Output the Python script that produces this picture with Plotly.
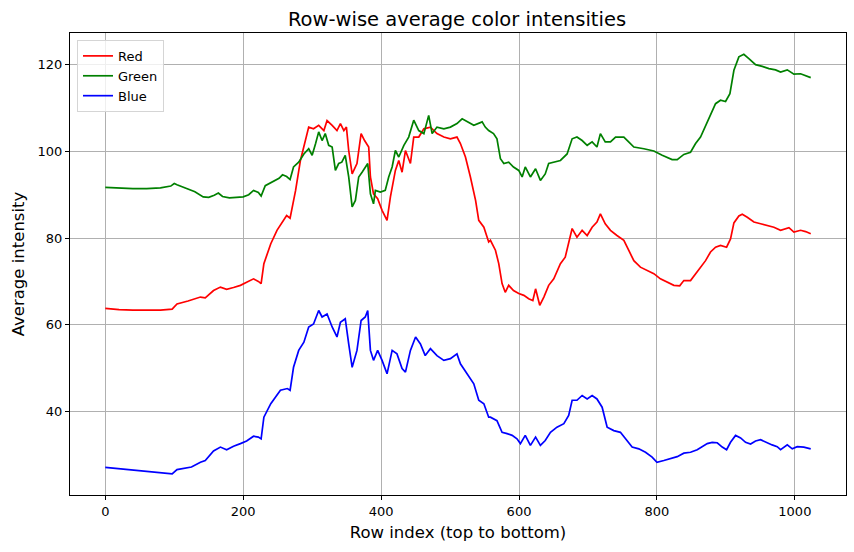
import plotly.graph_objects as go

# ---- data ----
red_x = [0, 20, 40, 60, 80, 97, 104, 120, 138, 145, 157, 167, 176, 186, 196, 205, 215, 222, 226, 230, 240, 249, 257, 263, 268,
         276, 283, 290, 295, 302, 309.5, 317, 321.6, 329, 336, 341, 346, 349.7, 353, 358, 365, 371, 376, 382, 384.5, 389, 395,
         401.4, 408.6, 413.5, 420.7, 425.6, 430.4, 435.3, 442.5, 447.3, 454.6, 462, 471.5, 481, 491, 500.5, 510, 515, 522.3,
         529.5, 537, 541.6, 549, 556, 558.5, 565.8, 570.6, 575.4, 580, 585, 592, 599.6, 607, 614, 620, 624, 630, 636, 643,
         650.4, 660, 667, 672, 677, 684, 691.5, 698.8, 706, 713, 718, 725, 732.6, 742, 752, 759, 766.5, 776, 786, 795.5, 805,
         815, 824.5, 833, 839, 848.7, 856, 863.2, 870.5, 877.7, 885, 892.2, 901, 906.7, 911.6, 918.8, 923.7, 931, 940.6,
         950.3, 960, 969.6, 979.3, 991.4, 998.6, 1008.3, 1015.6, 1023]
red_y = [63.8, 63.5, 63.4, 63.4, 63.4, 63.6, 64.8, 65.5, 66.4, 66.2, 67.9, 68.7, 68.2, 68.6, 69.1, 69.8, 70.6, 70.0, 69.5, 74.1,
         78.7, 81.8, 83.7, 85.2, 84.6,
         91.0, 97.9, 102.5, 105.6, 105.2, 106.0, 104.8, 107.1, 106.0, 104.8, 106.4, 104.8, 105.6, 100.2, 94.8, 97.2, 104.1,
         102.5, 101.0, 94.1, 90.2, 89.1, 86.4, 84.1, 89.5, 95.6, 97.9, 95.2, 100.2, 97.2, 103.3, 103.3, 105.2, 105.6, 104.1,
         103.3, 102.9, 103.3, 101.8, 98.7, 94.1, 88.7, 84.1, 82.5, 79.1, 79.5, 77.2, 74.1, 69.5, 67.5, 69.1, 67.9, 67.2, 66.8,
         66.0, 65.6, 68.3, 64.5, 66.4, 69.1, 70.6, 74.1, 75.6, 78.7, 82.2, 80.2, 81.8, 80.6, 82.5, 83.7, 85.6, 83.3, 81.8,
         80.6, 79.5, 77.2, 74.8, 73.3, 72.5, 71.8, 70.6, 69.8, 69.1, 69.0, 70.2, 70.2, 71.8, 73.2, 74.8, 76.8, 77.9, 78.3,
         77.9, 79.8, 83.5, 85.1, 85.5, 84.8, 83.7, 83.3, 82.9, 82.5, 81.8, 82.4, 81.4, 81.8, 81.5, 81.0]

green_x = [0, 20, 40, 60, 80, 95, 100, 104, 115, 130, 142, 150, 158, 164, 170, 180, 190, 200, 208, 215, 222, 226, 232, 240,
           245, 252, 257, 263, 268, 273, 280.5, 288, 295, 300, 305, 309.5, 314.4, 319, 324, 329, 333.7, 338.5, 343, 348,
           353, 358, 362.7, 367.5, 372.4, 377, 380.6, 384.5, 389, 391.7, 399, 406, 411, 416, 420.7, 425.6, 433, 440, 447.3,
           454.6, 462, 469, 474, 481, 491, 500.5, 510, 517.5, 524.7, 534.4, 546.5, 551, 556, 563, 568, 573, 578, 585, 592,
           599.6, 604.5, 609, 616.5, 624, 631, 638, 643, 650.4, 660, 669.7, 677, 684, 691.5, 698.8, 706, 713, 718, 725,
           732.6, 740, 752, 759, 766.5, 781, 795.5, 807.6, 822, 829.4, 839, 848.7, 856, 863.2, 870.5, 877.7, 885, 892.2,
           899.5, 905.8, 911.6, 918.8, 926, 933.3, 943, 952.7, 962.4, 972, 979.3, 989, 998.6, 1008.3, 1015.6, 1023]
green_y = [91.7, 91.5, 91.4, 91.4, 91.6, 92.0, 92.6, 92.3, 91.6, 90.7, 89.5, 89.4, 89.9, 90.4, 89.6, 89.3, 89.4, 89.5, 90.0,
           91.0, 90.5, 89.7, 92.1, 92.8, 93.2, 93.8, 94.6, 94.2, 93.5, 96.4, 97.5, 99.4, 100.6, 99.1, 101.8, 104.5, 102.5,
           104.1, 101.4, 101.0, 95.6, 97.2, 97.5, 99.1, 94.1, 87.2, 88.7, 94.1, 95.2, 96.4, 97.2, 90.2, 87.9, 91.0, 90.6,
           91.0, 94.1, 96.4, 100.2, 98.7, 101.4, 103.3, 107.2, 104.8, 104.1, 108.3, 104.1, 105.6, 105.2, 105.6, 106.4,
           107.5, 106.8, 106.0, 106.8, 105.6, 104.8, 104.1, 102.9, 98.3, 97.2, 97.5, 96.4, 95.6, 94.1, 96.4, 94.1, 96.0,
           93.3, 94.8, 97.2, 97.5, 97.9, 99.4, 102.9, 103.3, 102.5, 101.4, 102.2, 101.0, 104.1, 102.2, 102.2, 103.3,
           103.3, 102.2, 101.0, 100.6, 100.1, 99.1, 98.1, 98.1, 99.3, 99.8, 101.8, 103.3, 106.0, 108.7, 111.0, 111.8,
           111.5, 113.3, 118.7, 121.8, 122.4, 121.4, 120.0, 119.6, 119.1, 118.8, 118.3, 118.8, 117.8, 117.9, 117.5, 117.0]

blue_x = [0, 20, 40, 60, 80, 97, 104, 115, 125, 138, 145, 157, 167, 176, 186, 196, 205, 215, 222, 226, 230, 240, 254, 264,
          268, 273, 280.5, 288, 295, 302, 309.5, 314.4, 321.6, 329, 336, 341, 348, 353, 358, 365, 371, 377, 380.6, 384.5,
          389, 395, 401.4, 408.6, 416, 423, 430.4, 435.3, 442.5, 450, 457, 464, 471.5, 481, 491, 500.5, 510, 515, 524.7,
          534.4, 541.6, 549, 556, 558.5, 568, 575.4, 582.7, 590, 597, 602, 609, 616.5, 624, 631, 638, 645.6, 655, 665, 672,
          677, 684, 691.5, 698.8, 706, 713, 720.5, 727.8, 737.4, 747, 756.8, 764, 773.7, 783.4, 793, 800, 810, 820, 829.4,
          839, 848.7, 858.4, 865.6, 873, 880, 887.4, 894.7, 901, 906.7, 914, 921.3, 928.5, 935.8, 943, 950.3, 957.5, 967,
          974.4, 979.3, 989, 996.2, 1003.5, 1013, 1023]
blue_y = [27.1, 26.8, 26.5, 26.1, 25.8, 25.6, 26.6, 26.9, 27.2, 28.3, 28.7, 30.9, 31.8, 31.2, 32.0, 32.6, 33.2, 34.3, 34.1,
          33.7, 38.7, 41.8, 44.9, 45.3, 44.9, 50.2, 54.1, 56.0, 59.5, 60.2, 63.3, 61.8, 62.5, 59.5, 57.2, 60.6, 61.4, 55.6,
          50.2, 54.1, 61.0, 61.8, 63.3, 54.1, 51.8, 54.1, 51.8, 48.7, 54.1, 53.3, 49.9, 49.1, 54.1, 57.2, 55.6, 52.9, 54.5,
          52.9, 51.8, 52.2, 53.3, 51.0, 48.7, 46.4, 42.6, 41.8, 38.7, 38.7, 37.9, 35.2, 34.9, 34.5, 33.7, 32.6, 34.5, 32.2,
          34.1, 32.2, 33.3, 35.2, 36.4, 37.2, 39.1, 42.6, 42.6, 43.7, 42.9, 43.7, 42.9, 41.0, 36.4, 35.6, 35.2, 33.3, 31.8,
          31.4, 30.6, 29.5, 28.3, 28.7, 29.1, 29.6, 30.4, 30.6, 31.2, 31.8, 32.6, 32.9, 32.8, 31.8, 31.2, 32.9, 34.5, 33.9,
          32.9, 32.5, 33.2, 33.5, 32.9, 32.3, 31.9, 31.2, 32.3, 31.4, 31.9, 31.8, 31.4]

x_ticks = [0, 200, 400, 600, 800, 1000]
y_ticks = [40, 60, 80, 100, 120]

FONT = "DejaVu Sans"

fig = go.Figure()
for name, xs, ys, col in [("Red", red_x, red_y, "#ff0000"),
                          ("Green", green_x, green_y, "#008000"),
                          ("Blue", blue_x, blue_y, "#0000ff")]:
    fig.add_trace(go.Scatter(x=xs, y=ys, mode="lines", name=name,
                             line=dict(color=col, width=1.7)))

axis_common = dict(showline=True, linecolor="black", linewidth=1, mirror=True,
                   showgrid=True, gridcolor="#b0b0b0", gridwidth=1,
                   ticks="outside", ticklen=4, tickcolor="black", tickwidth=1,
                   zeroline=False, tickfont=dict(family=FONT, size=13, color="black"))

fig.update_layout(
    width=854, height=552,
    margin=dict(l=70, r=8, t=33, b=57),
    paper_bgcolor="white", plot_bgcolor="white",
    title=dict(text="Row-wise average color intensities", x=457 / 854, xanchor="center",
               y=1 - 19 / 552, yanchor="middle", yref="container",
               font=dict(family=FONT, size=19.5, color="black")),
    xaxis=dict(range=[-51.15, 1074.15], tickvals=x_ticks,
               title=dict(text="Row index (top to bottom)", standoff=8,
                          font=dict(family=FONT, size=16.5, color="black")),
               **axis_common),
    yaxis=dict(range=[20.75, 127.3], tickvals=y_ticks,
               title=dict(text="Average intensity", standoff=8,
                          font=dict(family=FONT, size=16.5, color="black")),
               **axis_common),
    legend=dict(x=0.009, y=0.985, xanchor="left", yanchor="top",
                bgcolor="rgba(255,255,255,0.8)", bordercolor="#d5d5d5", borderwidth=1,
                font=dict(family=FONT, size=13, color="black"), itemwidth=30,
                tracegroupgap=0),
    showlegend=True,
)

fig.write_html("out.html", config={"displayModeBar": False},
               post_script="document.body.style.margin='0';document.body.style.padding='0';")
